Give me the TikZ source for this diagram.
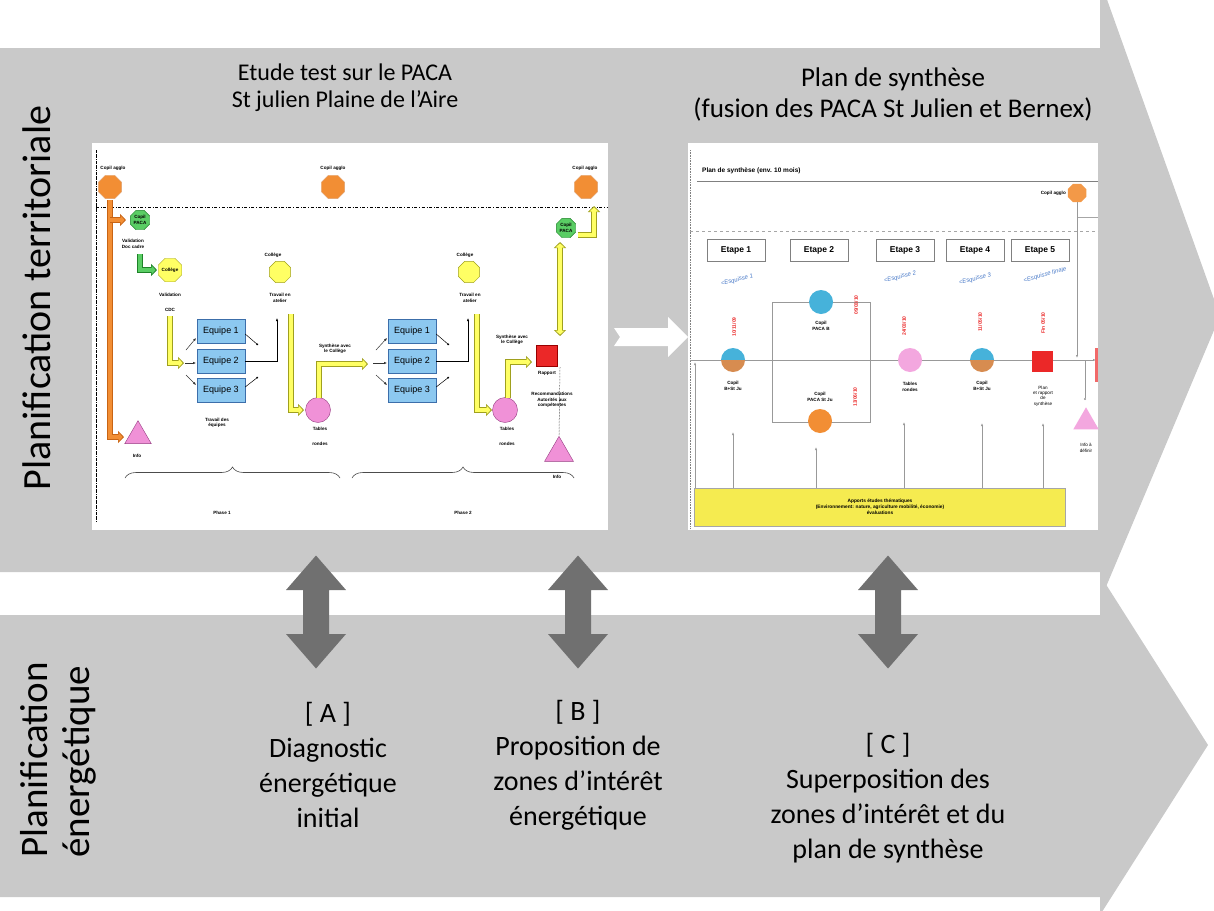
\documentclass[tikz,border=0pt]{standalone}
\usepackage{fontspec}
\setmainfont{Carlito}
\newfontfamily\smallsans{Liberation Sans}
\usetikzlibrary{shapes.geometric,arrows.meta,decorations.pathreplacing,calc}
\definecolor{band}{RGB}{201,201,201}
\definecolor{darkarr}{RGB}{112,112,112}
\definecolor{orangeC}{RGB}{242,142,52}
\definecolor{orangeD}{RGB}{200,100,20}
\definecolor{greenC}{RGB}{90,205,100}
\definecolor{greenD}{RGB}{30,130,40}
\definecolor{yelC}{RGB}{255,255,100}
\definecolor{yelD}{RGB}{160,160,30}
\definecolor{blueC}{RGB}{140,200,240}
\definecolor{blueD}{RGB}{60,110,170}
\definecolor{pinkC}{RGB}{240,145,215}
\definecolor{pinkD}{RGB}{150,60,130}
\definecolor{redC}{RGB}{235,40,40}
\definecolor{esq}{RGB}{70,120,200}
\definecolor{ybox}{RGB}{245,235,80}
\definecolor{cyanC}{RGB}{70,178,218}
\definecolor{brownC}{RGB}{215,140,80}
\newcommand\fatarrow[3]{%
  \draw[#1, line width=5.5pt, line join=miter, -{Triangle[length=6pt,width=12pt]}] #3;
  \draw[#2, line width=3.2pt, line join=miter, shorten >=1.3pt, -{Triangle[length=4.2pt,width=8.5pt]}] #3;}
\begin{document}
\begin{tikzpicture}[x=1pt,y=-1pt,
  tiny/.style={font=\smallsans\bfseries\fontsize{4.6}{5.4}\selectfont, inner sep=0, align=center},
  oct/.style={regular polygon, regular polygon sides=8, minimum size=#1, inner sep=0},
  eqbox/.style={draw=blueD, fill=blueC, minimum width=48pt, minimum height=24pt, inner sep=0, font=\smallsans\fontsize{9}{10}\selectfont},
  etape/.style={draw=gray, fill=white, minimum width=58pt, minimum height=22pt, inner sep=0, font=\smallsans\bfseries\fontsize{8.5}{10}\selectfont},
  date/.style={font=\smallsans\bfseries\fontsize{5}{6}\selectfont, text=redC, rotate=90, inner sep=0},
  esqt/.style={font=\smallsans\itshape\fontsize{6}{7}\selectfont, text=esq, rotate=15, inner sep=0},
  small/.style={-{Latex[length=3pt,width=2.5pt]}, line width=0.5pt, black!80},
  dbl/.pic={\fill[darkarr] (0,-56.5) -- (30,-22) -- (13,-22) -- (13,22) -- (30,22) -- (0,56.5) -- (-30,22) -- (-13,22) -- (-13,-22) -- (-30,-22) -- cycle;},
  big/.style={font=\fontsize{28}{35}\selectfont, align=center, inner sep=0}
]
\useasboundingbox (0,0) rectangle (1214,910);
\clip (0,0) rectangle (1214,910);
% bands
\fill[band] (0,48) -- (1100,48) -- (1100,-20) -- (1220,316) -- (1100,601) -- (1100,572) -- (0,572) -- cycle;
\fill[band] (0,615) -- (1100,615) -- (1100,575) -- (1208,745) -- (1100,915) -- (1100,897) -- (0,897) -- cycle;
% side labels
\node[rotate=90, font=\fontsize{40}{46}\selectfont, inner sep=0] (lab1) at (37,298) {Planification territoriale};
\node[rotate=90, font=\fontsize{39}{42}\selectfont, align=left, inner sep=0] (lab2) at (58,760) {Planification\\énergétique};
% titles
\node[font=\fontsize{24}{27}\selectfont, align=center, inner sep=0] (tA) at (345,88) {Etude test sur le PACA\\St julien Plaine de l’Aire};
\node[font=\fontsize{27}{31}\selectfont, align=center, inner sep=0] (tB) at (893,94) {Plan de synthèse\\(fusion des PACA St Julien et Bernex)};
% bottom texts
\node[big] (bA) at (328,765) {[ A ]\\Diagnostic\\énergétique\\initial};
\node[big] (bB) at (578,765) {[ B ]\\Proposition de\\zones d’intérêt\\énergétique};
\node[big] (bC) at (888,798) {[ C ]\\Superposition des\\zones d’intérêt et du\\plan de synthèse};
% double arrows
\pic (dA) at (316,612) {dbl};
\pic (dB) at (578,612) {dbl};
\pic (dC) at (888,612) {dbl};
% white arrow between insets
\fill[white] (614,328) -- (668,328) -- (668,317) -- (688,337) -- (668,357) -- (668,346) -- (614,346) -- (620,337) -- cycle;

% ================= LEFT INSET =================
\fill[white] (92,143) rectangle (608,530);
\draw[densely dashdotted, line width=0.6pt] (96,150) -- (96,522);
\draw[dashdotted, line width=0.7pt] (96,207) -- (608,207);
\node[tiny] (ca1) at (113,168) {Copil agglo};
\node[tiny] (ca2) at (333,168) {Copil agglo};
\node[tiny] (ca3) at (585,168) {Copil agglo};
\node[oct=25pt, fill=orangeC, draw=orangeD!60] (o1) at (110,187) {};
\node[oct=25pt, fill=orangeC, draw=orangeD!60] (o2) at (333,187) {};
\node[oct=25pt, fill=orangeC, draw=orangeD!60] (o3) at (586,187) {};
\node[oct=21pt, fill=greenC, draw=greenD, tiny] (g1) at (140,220) {Copil\\PACA};
\node[tiny] (v1) at (133,244) {Validation\\Doc cadre};
\node[oct=23pt, fill=yelC, draw=yelD, tiny] (y1) at (170,270) {Collège};
\node[tiny] (v2) at (170,295) {Validation};
\node[tiny] (v3) at (170,310) {CDC};
\node[isosceles triangle, isosceles triangle apex angle=60, shape border rotate=90, fill=pinkC, draw=pinkD, minimum height=23pt, inner sep=0] (i1) at (138,436) {};
\node[tiny] (i1t) at (137,456) {Info};
% orange bar
\fatarrow{orangeD}{orangeC}{(110,200) -- (110,437) -- (124,437)}
\fatarrow{orangeD}{orangeC}{(110,220) -- (126,220)}
% green L
\fatarrow{greenD}{greenC}{(140,254) -- (140,270) -- (157,270)}
% equipes
\node[eqbox] (e1) at (221,331) {Equipe 1};
\node[eqbox] (e2) at (221,361) {Equipe 2};
\node[eqbox] (e3) at (221,390) {Equipe 3};
\node[tiny] (te) at (217,423) {Travail des\\équipes};
\fatarrow{yelD}{yelC}{(170,316) -- (170,363) -- (184,363)}
\draw[small] (186,350) -- (196,338);
\draw[small] (185,363) -- (196,363);
\draw[small] (186,375) -- (196,385);
\draw[line width=0.5pt, -{Circle[length=2pt]}] (e1.east) ++(0,3) -- (258,345);
\draw[line width=0.5pt, -{Circle[length=2pt]}] (e3.east) ++(0,-3) -- (258,377);
\draw[line width=0.5pt, -{Latex[length=3pt]}] (e2.east) -- (277,361) -- (277,318);
\node[tiny] (cl1) at (273,255) {Collège};
\node[oct=23pt, fill=yelC, draw=yelD] (y2) at (280,272) {};
\node[tiny] (tw1) at (280,298) {Travail en\\atelier};
\fatarrow{yelD}{yelC}{(291,314) -- (291,410) -- (304,410)}
\node[circle, fill=pinkC, draw=pinkD, minimum size=25pt, inner sep=0] (p1) at (318,410) {};
\node[tiny] (tr1) at (320,429) {Tables};
\node[tiny] (tr1b) at (320,444) {rondes};
\fatarrow{yelD}{yelC}{(319,398) -- (319,364) -- (368,364)}
\node[tiny] (sy1) at (335,349) {Synthèse avec\\le Collège};
% phase 2
\node[eqbox] (f1) at (412,331) {Equipe 1};
\node[eqbox] (f2) at (412,361) {Equipe 2};
\node[eqbox] (f3) at (412,390) {Equipe 3};
\draw[small] (376,350) -- (387,338);
\draw[small] (373,363) -- (387,363);
\draw[small] (376,375) -- (387,385);
\draw[line width=0.5pt, -{Circle[length=2pt]}] (f1.east) ++(0,3) -- (449,345);
\draw[line width=0.5pt, -{Circle[length=2pt]}] (f3.east) ++(0,-3) -- (449,377);
\draw[line width=0.5pt, -{Latex[length=3pt]}] (f2.east) -- (468,361) -- (468,318);
\node[tiny] (cl2) at (465,255) {Collège};
\node[oct=23pt, fill=yelC, draw=yelD] (y3) at (469,272) {};
\node[tiny] (tw2) at (470,298) {Travail en\\atelier};
\fatarrow{yelD}{yelC}{(477,314) -- (477,410) -- (492,410)}
\node[circle, fill=pinkC, draw=pinkD, minimum size=25pt, inner sep=0] (p2) at (505,410) {};
\node[tiny] (tr2) at (507,429) {Tables};
\node[tiny] (tr2b) at (507,444) {rondes};
\fatarrow{yelD}{yelC}{(508,398) -- (508,362) -- (532,362)}
\node[tiny] (sy2) at (512,340) {Synthèse avec\\le Collège};
\node[fill=redC, draw=red!60!black, minimum size=21pt, inner sep=0] (r1) at (547,356) {};
\node[tiny] (rp) at (547,373) {Rapport};
\node[tiny] (rc) at (552,400) {Recommandations\\Autorités aux\\compétentes};
\node[isosceles triangle, isosceles triangle apex angle=60, shape border rotate=90, fill=pinkC, draw=pinkD, minimum height=25pt, inner sep=0] (i2) at (559,453) {};
\node[tiny] (i2t) at (557,477) {Info};
\draw[densely dotted, line width=0.5pt] (560,367) -- (i2.apex);
\node[oct=21pt, fill=greenC, draw=greenD, tiny] (g2) at (566,228) {Copil\\PACA};
\fatarrow{yelD}{yelC}{(578,235) -- (594,235) -- (594,206)}
\draw[yelD, line width=5.5pt, {Triangle[length=6pt,width=12pt]}-{Triangle[length=6pt,width=12pt]}] (560,242) -- (560,336);
\draw[yelC, line width=3.2pt, shorten >=1.3pt, shorten <=1.3pt, {Triangle[length=4.2pt,width=8.5pt]}-{Triangle[length=4.2pt,width=8.5pt]}] (560,242) -- (560,336);
% braces
\draw[decorate, decoration={brace, amplitude=11pt}, line width=0.6pt, black!70] (125,478) -- (340,478);
\draw[decorate, decoration={brace, amplitude=11pt}, line width=0.6pt, black!70] (352,478) -- (574,478);
\node[tiny] (ph1) at (222,513) {Phase 1};
\node[tiny] (ph2) at (463,513) {Phase 2};

% ================= RIGHT INSET =================
\fill[white] (688,143) rectangle (1098,530);
\draw[densely dotted, line width=0.6pt, gray] (690,150) -- (690,528);
\node[font=\smallsans\bfseries\fontsize{6.5}{7}\selectfont, anchor=west, inner sep=0] (ps) at (702,171) {Plan de synthèse (env. 10 mois)};
\draw[gray, line width=0.8pt] (697,181) -- (1098,181);
\draw[gray!70, dashed, line width=0.5pt] (690,231) -- (1098,231);
\draw[gray!70, line width=0.4pt] (1077,217) -- (1098,217);
\node[etape] (E1) at (736,250) {Etape 1};
\node[etape] (E2) at (819,250) {Etape 2};
\node[etape] (E3) at (905,250) {Etape 3};
\node[etape] (E4) at (975,250) {Etape 4};
\node[etape] (E5) at (1040,250) {Etape 5};
\node[esqt] (s1) at (737,280) {<Esquisse 1};
\node[esqt] (s2) at (900,277) {<Esquisse 2};
\node[esqt] (s3) at (975,279) {<Esquisse 3};
\node[esqt] (s4) at (1045,275) {<Esquisse finale};
\draw[gray!80, line width=0.6pt, -{Latex[length=3pt]}] (690,360) -- (1096,360);
\draw[gray!80, line width=0.6pt] (772,302) rectangle (870,422);
\node[date] (d1) at (734,327) {10/11/09};
\node[date] (d2) at (856,305) {09/03/10};
\node[date] (d3) at (855,397) {13/06/10};
\node[date] (d4) at (904,326) {24/03/10};
\node[date] (d5) at (980,322) {11/05/10};
\node[date] (d6) at (1043,323) {Fin 05/10};
\fill[cyanC] (733,360) ++(12,0) arc[start angle=0, end angle=-180, radius=12] -- cycle;
\fill[brownC] (733,360) ++(12,0) arc[start angle=0, end angle=180, radius=12] -- cycle;
\coordinate (c1) at (733,360);
\node[tiny] (c1t) at (733,386) {Copil\\B+St Ju};
\node[circle, fill=cyanC, minimum size=24pt, inner sep=0] (cb) at (821,302) {};
\node[tiny] (cbt) at (821,326) {Copil\\PACA B};
\node[circle, fill=orangeC, minimum size=24pt, inner sep=0] (co) at (820,421) {};
\node[tiny] (cot) at (820,397) {Copil\\PACA St Ju};
\node[circle, fill=pinkC!80, minimum size=24pt, inner sep=0] (tp) at (910,360) {};
\node[tiny] (tpt) at (910,387) {Tables\\rondes};
\fill[cyanC] (982,360) ++(12,0) arc[start angle=0, end angle=-180, radius=12] -- cycle;
\fill[brownC] (982,360) ++(12,0) arc[start angle=0, end angle=180, radius=12] -- cycle;
\coordinate (c2) at (982,360);
\node[tiny] (c2t) at (982,386) {Copil\\B+St Ju};
\node[fill=redC, minimum size=21pt, inner sep=0] (pr) at (1042,361) {};
\node[tiny, font=\smallsans\fontsize{4.6}{5.4}\selectfont] (prt) at (1043,396) {Plan\\et rapport\\de\\synthèse};
\node[oct=20pt, fill=orangeC!90] (o4) at (1077,193) {};
\node[tiny, anchor=east] (o4t) at (1066,193) {Copil agglo};
\draw[gray!80, line width=0.6pt, -{Latex[length=3pt]}] (o4.south) -- (1077,358);
\draw[gray!80, line width=0.6pt, -{Circle[length=2pt]}] (1085,361) -- (1085,400);
\node[isosceles triangle, isosceles triangle apex angle=60, shape border rotate=90, fill=pinkC!80, minimum height=22pt, inner sep=0] (i3) at (1086,422) {};
\node[tiny, font=\smallsans\fontsize{4.6}{5.4}\selectfont] (i3t) at (1086,448) {Info à\\définir};
\fill[redC!70] (1095,348) rectangle (1098,382);
\node[fill=ybox, draw=gray!70, minimum width=371pt, minimum height=38pt, inner sep=0] (yb) at (880,507) {};
\node[tiny, font=\smallsans\bfseries\fontsize{4.8}{6}\selectfont] (ybt) at (880,507) {Apports études thématiques\\(Environnement: nature, agriculture mobilité, économie)\\évaluations};
\draw[gray!80, line width=0.6pt, -{Latex[length=3pt]}] (695,488) -- (695,362);
\draw[gray!80, line width=0.6pt, -{Latex[length=3pt]}] (733,488) -- (733,432);
\draw[gray!80, line width=0.6pt, -{Latex[length=3pt]}] (816,488) -- (816,447);
\draw[gray!80, line width=0.6pt, -{Latex[length=3pt]}] (904,488) -- (904,422);
\draw[gray!80, line width=0.6pt, -{Latex[length=3pt]}] (982,488) -- (982,423);
\draw[gray!80, line width=0.6pt, -{Latex[length=3pt]}] (1043,488) -- (1043,423);
\end{tikzpicture}
\end{document}
